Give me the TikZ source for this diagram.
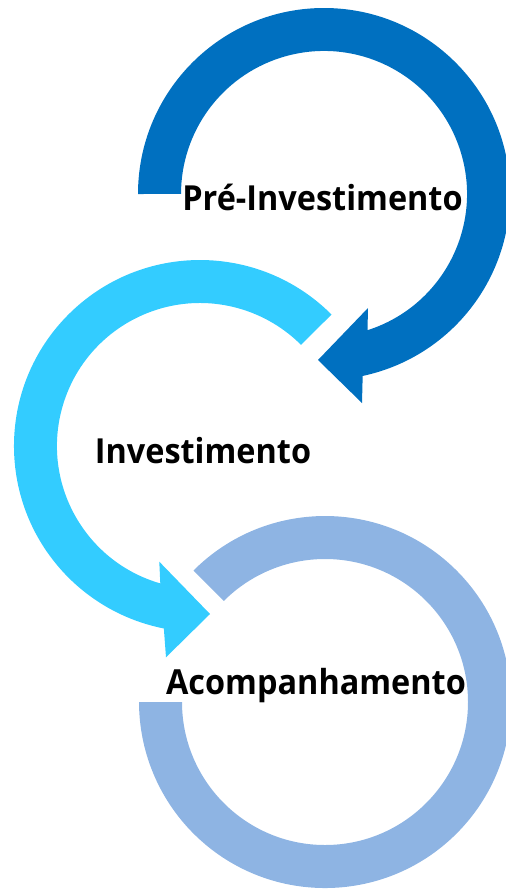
\documentclass[tikz,border=0pt]{standalone}
\usepackage{fontspec}
\setmainfont[FakeStretch=0.94]{Open Sans}
\definecolor{preblue}{HTML}{0070C0}
\definecolor{invblue}{HTML}{33CCFF}
\definecolor{acoblue}{HTML}{8EB4E3}
\begin{document}
\begin{tikzpicture}[x=1pt,y=1pt]
\tikzstyle{every node}+=[inner sep=0pt]
\tikzstyle{stagelabel}=[font=\fontsize{34.5}{37}\selectfont\bfseries, anchor=base]
\useasboundingbox (0,0) rectangle (506,-889);
\fill [acoblue] (193.5,-570.5) arc (135:-180:186) -- (182,-702) arc (-180:135:143) -- cycle;
\fill [invblue] (331.5,-314.5) arc (45:258.8:186) -- (166,-657.3) -- (210,-614) -- (159.3,-561.7) -- (160.3,-583.4) arc (253.9:45:143) -- cycle;
\fill [preblue] (138,-194) arc (180:-78:186) -- (362,-403) -- (318,-360) -- (368,-308) -- (367.5,-330.2) arc (-72.3:180:143) -- cycle;
\node [stagelabel] (pre) at (322.5,-210) {Pré-Investimento};
\node [stagelabel] (inv) at (203,-463.3) {Investimento};
\node [stagelabel] (aco) at (316,-694.3) {Acompanhamento};
\end{tikzpicture}
\end{document}
